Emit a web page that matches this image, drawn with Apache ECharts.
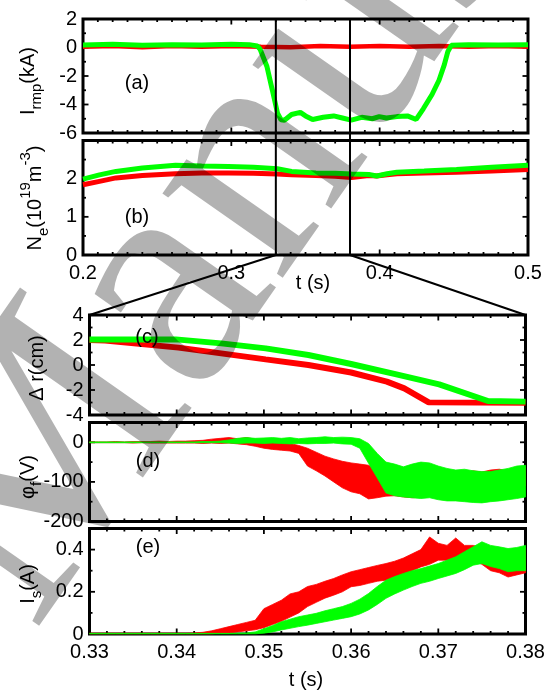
<!DOCTYPE html>
<html><head><meta charset="utf-8">
<script src="https://cdn.jsdelivr.net/npm/echarts@6/dist/echarts.min.js"></script>
<style>html,body{margin:0;padding:0;background:#fff}#c{width:549px;height:693px}</style>
</head><body><div id="c"></div>
<script>
const FONT = '"Liberation Sans", Arial, sans-serif';
const RED = '#ff0000', GREEN = '#00ff00';

// ---------- data ----------
const zoomT = [0.33, 0.38];
const irmpRedT = [0.2,0.22,0.24,0.26,0.28,0.30,0.32,0.34,0.36,0.38,0.40,0.42,0.44,0.46,0.48,0.5];
const irmpRedV = [0.05,0.1,0.02,0.1,0.05,0.1,0.05,0.02,0.1,0.05,0.1,0.05,0.1,0.05,0.1,0.05];
const irmpGreenT = [0.2,0.22,0.24,0.26,0.28,0.3,0.312,0.3175,0.3193,0.324,0.3276,0.3311,0.3335,0.3358,0.3406,0.3465,0.35,0.3548,0.3619,0.369,0.3749,0.3808,0.3879,0.395,0.3997,0.4045,0.4116,0.4187,0.4246,0.4294,0.4353,0.44,0.4436,0.4459,0.4483,0.46,0.48,0.5];
const irmpGreenV = [0.18,0.22,0.15,0.2,0.18,0.22,0.2,0.1,-0.1,-1.33,-2.97,-4.6,-5.07,-5.1,-4.7,-4.55,-4.8,-5.05,-4.9,-4.8,-4.95,-5.1,-4.9,-5.0,-4.85,-4.95,-4.85,-4.8,-5.05,-4.3,-3.3,-2.3,-1.2,-0.3,0.15,0.2,0.18,0.2];

const neT = [0.2,0.2111,0.2222,0.24,0.2624,0.28,0.298,0.315,0.331,0.3406,0.357,0.37,0.381,0.3927,0.398,0.405,0.4116,0.43,0.4518,0.4755,0.5];
const neGreen = [1.99,2.1,2.19,2.28,2.35,2.33,2.32,2.3,2.26,2.19,2.15,2.14,2.12,2.11,2.07,2.13,2.17,2.2,2.24,2.3,2.35];
const neRed = [1.84,1.93,2.02,2.08,2.13,2.15,2.15,2.14,2.12,2.1,2.08,2.06,2.03,2.08,2.07,2.1,2.13,2.15,2.17,2.2,2.24];

const drGreenT = [0.33,0.3399,0.3451,0.3502,0.3551,0.36,0.3652,0.3701,0.3757,0.38];
const drGreenV = [2.05,2.05,1.73,1.33,0.8,0.08,-0.75,-1.55,-2.88,-2.93];
const drRedT = [0.33,0.3318,0.3351,0.3402,0.3451,0.3502,0.3551,0.36,0.3641,0.3661,0.3681,0.3689,0.38];
const drRedV = [2.0,1.95,1.73,1.39,0.93,0.45,0.0,-0.6,-1.33,-1.87,-2.67,-2.99,-3.02];

const fastT = [0.330,0.331,0.332,0.333,0.334,0.335,0.336,0.337,0.338,0.339,0.340,0.341,0.342,0.343,0.344,0.345,0.346,0.347,0.348,0.349,0.350,0.351,0.352,0.353,0.354,0.355,0.356,0.357,0.358,0.359,0.360,0.361,0.362,0.363,0.364,0.365,0.366,0.367,0.368,0.369,0.370,0.371,0.372,0.373,0.374,0.375,0.376,0.377,0.378,0.379,0.380];
const phiRedUp = [1,1,1,2,1, 2,2,2,3,2, 3,3,4,5,8, 10,12,9,12,8, 6,4,2,-3,-8, -15,-25,-35,-42,-48, -52,-55,-58,-70,-85, -88,-90,-92,-90,-88, -85,-80,-74,-78,-72, -75,-70,-68,-72,-65, -62];
const phiRedLo = [-1,-1,-1,-1,-1, -2,-1,-2,-2,-2, -2,-2,-2,-3,-2, -3,-2,-4,-6,-10, -15,-18,-20,-22,-28, -60,-72,-85,-100,-115, -125,-130,-143,-140,-136, -135,-138,-140,-139,-136, -140,-135,-131,-128,-126, -122,-120,-118,-115,-112, -110];
const phiGreenUp = [1,1,1,1,1, 1,1,1,1,1, 1,1,1,2,2, 3,6,10,12,10, 11,12,10,12,9, 11,12,14,12,13, 12,9,-3,-28,-50, -55,-62,-55,-50,-52, -60,-66,-70,-68,-72, -74,-74,-70,-66,-60, -58];
const phiGreenLo = [-1,-1,-1,-1,-1, -1,-1,-1,-1,-1, -1,-1,-1,-1,-1, -1,-2,-3,-2,-2, -3,-2,-3,-4,-3, -4,-3,-3,-2,-4, -5,-15,-53,-90,-128, -135,-138,-140,-142,-140, -145,-148,-148,-150,-152, -153,-150,-148,-145,-142, -138];
const isRedUp = [0.004,0.004,0.004,0.004,0.004, 0.004,0.004,0.004,0.004,0.004, 0.004,0.004,0.005,0.008,0.015, 0.025,0.035,0.045,0.055,0.065, 0.12,0.14,0.16,0.19,0.2, 0.225,0.235,0.25,0.263,0.28, 0.295,0.305,0.315,0.325,0.334, 0.345,0.36,0.38,0.4,0.46, 0.43,0.42,0.455,0.42,0.42, 0.41,0.4,0.38,0.36,0.38, 0.41];
const isRedLo = [0.001,0.001,0.001,0.001,0.001, 0.001,0.001,0.001,0.001,0.001, 0.001,0.001,0.001,0.001,0.001, 0.004,0.005,0.01,0.015,0.02, 0.03,0.045,0.06,0.08,0.1, 0.13,0.15,0.17,0.184,0.2, 0.224,0.23,0.24,0.25,0.255, 0.27,0.28,0.3,0.318,0.33, 0.35,0.35,0.35,0.35,0.35, 0.33,0.3,0.29,0.27,0.28, 0.29];
const isGreenUp = [0.003,0.003,0.003,0.003,0.003, 0.003,0.003,0.003,0.003,0.003, 0.003,0.003,0.003,0.003,0.003, 0.003,0.003,0.004,0.005,0.01, 0.025,0.04,0.058,0.07,0.082, 0.09,0.098,0.11,0.12,0.13, 0.145,0.165,0.192,0.225,0.255, 0.272,0.287,0.3,0.31,0.322, 0.334,0.35,0.366,0.39,0.413, 0.437,0.42,0.413,0.405,0.41, 0.42];
const isGreenLo = [0.001,0.001,0.001,0.001,0.001, 0.001,0.001,0.001,0.001,0.001, 0.001,0.001,0.001,0.001,0.001, 0.001,0.001,0.001,0.001,0.001, 0.004,0.01,0.019,0.027,0.035, 0.042,0.05,0.058,0.066,0.074, 0.082,0.095,0.114,0.14,0.169, 0.19,0.208,0.225,0.24,0.25, 0.263,0.275,0.287,0.305,0.326, 0.334,0.32,0.31,0.295,0.3, 0.3];

const topXTicks = {min:0.2, max:0.5, interval:0.1, minor:10};
const botXTicks = {min:0.33, max:0.38, interval:0.01, minor:5};
const yTicks = [
  {min:-6, max:2, interval:2, minor:2, maxLabel:true},
  {min:0, max:3, interval:1, minor:2, maxLabel:false},
  {min:-4, max:4, interval:2, minor:2, maxLabel:true},
  {min:-200, max:50, interval:100, minor:2, maxLabel:false},
  {min:0, max:0.5, interval:0.2, minor:2, maxLabel:false}
];
const panelLetters = ['(a)','(b)','(c)','(d)','(e)'];
const yNames = [
  [['I','m'],['rmp','sub'],['(kA)','m']],
  [['N','m'],['e','sub'],['(10','m'],['19','sup'],['m','m'],['-3','sup'],[')','m']],
  [['\u0394 r(cm)','m']],
  [['\u03c6','m'],['f','sub'],['(V)','m']],
  [['I','m'],['s','sub'],['(A)','m']]
];

// ---------- layout ----------
const grids = [
  {left:83, top:19, width:445, height:114},
  {left:83, top:140.5, width:445, height:114.5},
  {left:89.5, top:315, width:436, height:100},
  {left:89.5, top:422.5, width:436, height:99},
  {left:89.5, top:528.5, width:436, height:105.5}
];
const yNamePos = [[28,81],[35,198],[37,368],[28,477],[28,584]];
const letterPos = [[137,83],[137,217],[147,337],[148,461],[148,547]];

function axisCommon(t, showLabel, isY) {
  return {
    type:'value', min:t.min, max:t.max, interval:t.interval,
    axisLine:{show:false}, axisTick:{show:false}, splitLine:{show:false},
    axisLabel:{show:showLabel, color:'#000', fontFamily:FONT, fontSize:20, margin: isY ? 6 : 8,
      showMaxLabel: isY ? t.maxLabel : true,
      formatter: v => String(+v.toFixed(4))}
  };
}
const xAxis = [], yAxis = [];
grids.forEach((g, i) => {
  const xt = i < 2 ? topXTicks : botXTicks;
  xAxis.push(Object.assign(axisCommon(xt, i === 1 || i === 4, false), {gridIndex:i}));
  yAxis.push(Object.assign(axisCommon(yTicks[i], true, true), {gridIndex:i}));
});

function zip(t, v) { return t.map((x, k) => [x, v[k]]); }
function lineS(i, t, v, color, w, z) {
  return {type:'line', xAxisIndex:i, yAxisIndex:i, data:zip(t, v), showSymbol:false,
    symbol:'none', lineStyle:{color, width:w}, z, silent:true};
}
function bandS(i, t, up, lo, color, z) {
  return {type:'custom', xAxisIndex:i, yAxisIndex:i, data:[[t[0], lo[0]]], z, silent:true,
    renderItem: (params, api) => {
      const pts = [];
      for (let k = 0; k < t.length; k++) pts.push(api.coord([t[k], up[k]]));
      for (let k = t.length - 1; k >= 0; k--) pts.push(api.coord([t[k], lo[k]]));
      return {type:'polygon', shape:{points:pts}, style:{fill:color, stroke:color, lineWidth:0.8}};
    }};
}
// box frame with inward major/minor ticks on all four sides, placed through the axes
function frameS(i, xt, yt) {
  return {type:'custom', xAxisIndex:i, yAxisIndex:i, data:[[xt.min, yt.min]], z:1, silent:true,
    renderItem: (params, api) => {
      const ch = [];
      const a = api.coord([xt.min, yt.min]), b = api.coord([xt.max, yt.max]);
      const L = a[0], B = a[1], R = b[0], T = b[1];
      const seg = (x1, y1, x2, y2, w) => ch.push({type:'line', shape:{x1, y1, x2, y2}, style:{stroke:'#000', lineWidth:w}});
      const eachTick = (t, fn) => {
        const eps = t.interval * 1e-6;
        for (let k = 0; ; k++) {
          const v = t.min + k * t.interval;
          if (v > t.max + eps) break;
          fn(v, 5.5, 1.8);
          for (let m = 1; m < t.minor; m++) {
            const mv = v + m * t.interval / t.minor;
            if (mv < t.max - eps) fn(mv, 3, 1.8);
          }
        }
      };
      eachTick(xt, (v, len, w) => { const x = api.coord([v, yt.min])[0]; seg(x, B, x, B - len, w); seg(x, T, x, T + len, w); });
      eachTick(yt, (v, len, w) => { const y = api.coord([xt.min, v])[1]; seg(L, y, L + len, y, w); seg(R, y, R - len, y, w); });
      ch.push({type:'rect', shape:{x:L, y:T, width:R - L, height:B - T}, style:{fill:'none', stroke:'#000', lineWidth:3}});
      return {type:'group', children:ch};
    }};
}

const series = [
  lineS(0, irmpRedT, irmpRedV, RED, 4.5, 2),
  lineS(0, irmpGreenT, irmpGreenV, GREEN, 5, 3),
  lineS(1, neT, neRed, RED, 5, 2),
  lineS(1, neT, neGreen, GREEN, 5, 3),
  lineS(2, drRedT, drRedV, RED, 6, 2),
  lineS(2, drGreenT, drGreenV, GREEN, 6, 3),
  bandS(3, fastT, phiRedUp, phiRedLo, RED, 2),
  bandS(3, fastT, phiGreenUp, phiGreenLo, GREEN, 3),
  bandS(4, fastT, isRedUp, isRedLo, RED, 2),
  bandS(4, fastT, isGreenUp, isGreenLo, GREEN, 3)
];
grids.forEach((g, i) => series.push(frameS(i, i < 2 ? topXTicks : botXTicks, yTicks[i])));

const SZ = {m:20, sub:15, sup:15};
const DY = {m:0, sub:9, sup:-9};
const mctx = document.createElement('canvas').getContext('2d');
function measure(txt, size) { mctx.font = size + 'px ' + FONT; return mctx.measureText(txt).width; }
const graphic = [];
yNames.forEach((pieces, i) => {
  const widths = pieces.map(p => measure(p[0], SZ[p[1]]));
  const total = widths.reduce((a, b) => a + b, 0);
  let x = -total / 2;
  const children = pieces.map((p, k) => {
    const el = {type:'text', x:x, y:DY[p[1]], style:{text:p[0], fill:'#000', font:SZ[p[1]] + 'px ' + FONT, align:'left', verticalAlign:'middle'}};
    x += widths[k];
    return el;
  });
  graphic.push({type:'group', x:yNamePos[i][0], y:yNamePos[i][1], rotation:Math.PI/2, z:50, children});
});
panelLetters.forEach((txt, i) => {
  graphic.push({type:'text', x:letterPos[i][0], y:letterPos[i][1], z:50,
    style:{text:txt, fill:'#000', font:'20px ' + FONT, align:'center', verticalAlign:'middle'}});
});
graphic.push({type:'text', x:313, y:283, z:50, style:{text:'t (s)', fill:'#000', font:'20px ' + FONT, align:'center', verticalAlign:'middle'}});
graphic.push({type:'text', x:306, y:680, z:50, style:{text:'t (s)', fill:'#000', font:'20px ' + FONT, align:'center', verticalAlign:'middle'}});
// watermark
graphic.push({type:'text', x:-35, y:585, rotation: 55*Math.PI/180, z:100,
  style:{text:'Manuscript', font:'320px "Liberation Serif"', fill:'rgba(0,0,0,0.3)', align:'left', verticalAlign:'middle'}});

const chart = echarts.init(document.getElementById('c'), null, {renderer:'canvas'});
chart.setOption({animation:false, grid:grids, xAxis, yAxis, series, graphic});

// zoom connector lines, positioned through the axes' own conversion
const pTopA = zoomT.map(t => chart.convertToPixel({seriesIndex:0}, [t, yTicks[0].max]));
const pBotB = zoomT.map(t => chart.convertToPixel({seriesIndex:2}, [t, yTicks[1].min]));
const pC = [chart.convertToPixel({seriesIndex:4}, [botXTicks.min, yTicks[2].max]),
            chart.convertToPixel({seriesIndex:4}, [botXTicks.max, yTicks[2].max])];
const zr = chart.getZr();
for (let k = 0; k < 2; k++) {
  zr.add(new echarts.graphic.Line({z:60, shape:{x1:pTopA[k][0], y1:pTopA[k][1], x2:pBotB[k][0], y2:pBotB[k][1]}, style:{stroke:'#000', lineWidth:2}}));
  zr.add(new echarts.graphic.Line({z:60, shape:{x1:pBotB[k][0], y1:pBotB[k][1], x2:pC[k][0], y2:pC[k][1]}, style:{stroke:'#000', lineWidth:2}}));
}
</script></body></html>
